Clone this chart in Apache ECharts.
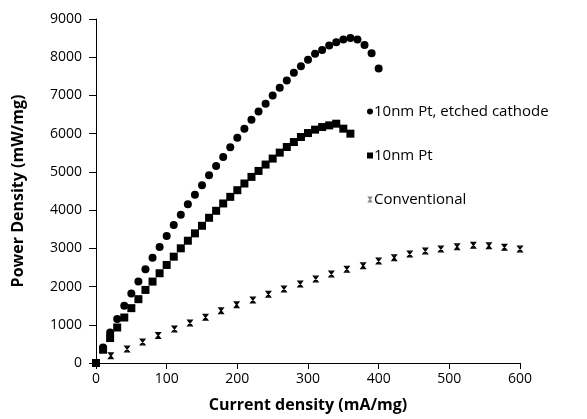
<!DOCTYPE html>
<html>
<head>
<meta charset="utf-8">
<script src="https://cdn.jsdelivr.net/npm/echarts@6/dist/echarts.min.js"></script>
<style>html,body{margin:0;padding:0;background:#fff;}#c{width:587px;height:419px;}</style>
</head>
<body>
<div id="c"></div>
<script>
const seriesNames = ['10nm Pt, etched cathode', '10nm Pt', 'Conventional'];

const etchedX = [0,10,20,30,40,50,60,70,80,90,100,110,120,130,140,150,160,170,180,190,200,210,220,230,240,250,260,270,280,290,300,310,320,330,340,350,360,370,380,390,400];
const etchedY = [0,407,798,1148,1495,1816,2130,2452,2755,3034,3321,3608,3877,4156,4400,4652,4913,5156,5391,5644,5896,6131,6366,6583,6783,7000,7200,7391,7592,7765,7931,8088,8192,8304,8391,8461,8505,8461,8322,8105,7704];

const ptX = [0,10,20,30,40,50,60,70,80,90,100,110,120,130,140,150,160,170,180,190,200,210,220,230,240,250,260,270,280,290,300,310,320,330,340,350,360];
const ptY = [0,347,652,929,1190,1435,1670,1912,2130,2348,2565,2782,3000,3199,3391,3590,3799,3982,4174,4347,4521,4696,4869,5025,5192,5348,5504,5651,5781,5912,6016,6105,6173,6217,6261,6131,6000];

const convX = [0,21,44,66,88,111,133,155,177,199,222,244,266,289,311,333,355,378,400,422,444,466,488,511,534,556,578,600];
const convY = [0,190,365,548,720,887,1044,1200,1364,1521,1651,1800,1938,2069,2199,2330,2452,2546,2669,2755,2852,2930,2982,3042,3078,3069,3026,2982];

const xTicks = {min: 0, max: 600, interval: 100};
const yTicks = {min: 0, max: 9000, interval: 1000};

const starPath = 'path://M2,0L8,0L8,1.5L2,1.5Z M2,8.5L8,8.5L8,10L2,10Z M0.5,0L2.8,0L9.5,10L7.2,10Z M7.2,0L9.5,0L2.8,10L0.5,10Z M4.3,0L5.7,0L5.7,10L4.3,10Z';

function pairs(xs, ys) { return xs.map((x, i) => [x, ys[i]]); }

const chart = echarts.init(document.getElementById('c'), null, {renderer: 'canvas'});
const font = '"Open Sans", "Liberation Sans", sans-serif';
chart.setOption({
  animation: false,
  backgroundColor: '#fff',
  textStyle: {fontFamily: font},
  grid: {left: 96, right: 67, top: 19, bottom: 56, containLabel: false},
  legend: {
    orient: 'vertical',
    left: 362,
    top: 99,
    itemGap: 29,
    itemWidth: 6,
    itemHeight: 6,
    textStyle: {fontFamily: font, fontSize: 15, color: '#000', padding: [0,0,0,-4]},
    data: [
      {name: seriesNames[0], icon: 'circle', itemStyle: {color: '#000', opacity: 1}},
      {name: seriesNames[1], icon: 'rect', itemStyle: {color: '#000', opacity: 1}},
      {name: seriesNames[2], icon: starPath, itemStyle: {color: '#888', opacity: 1}}
    ]
  },
  xAxis: {
    type: 'value',
    min: xTicks.min, max: xTicks.max, interval: xTicks.interval,
    name: 'Current density (mA/mg)',
    nameLocation: 'middle',
    nameGap: 34,
    nameTextStyle: {fontFamily: font, fontSize: 16, fontWeight: 'bold', color: '#000'},
    axisLine: {show: true, onZero: false, lineStyle: {color: '#000', width: 1}},
    axisTick: {show: true, inside: false, length: 6, lineStyle: {color: '#000'}},
    axisLabel: {fontFamily: font, fontSize: 14, color: '#000', margin: 9, formatter: v => String(v)},
    splitLine: {show: false}
  },
  yAxis: {
    type: 'value',
    min: yTicks.min, max: yTicks.max, interval: yTicks.interval,
    name: 'Power Density (mW/mg)',
    nameLocation: 'middle',
    nameGap: 70,
    nameTextStyle: {fontFamily: font, fontSize: 16, fontWeight: 'bold', color: '#000'},
    axisLine: {show: true, onZero: false, lineStyle: {color: '#000', width: 1}},
    axisTick: {show: true, inside: false, length: 7, lineStyle: {color: '#000'}},
    axisLabel: {fontFamily: font, fontSize: 14, color: '#000', margin: 14, formatter: v => String(v)},
    splitLine: {show: false}
  },
  series: [
    {name: seriesNames[2], type: 'scatter', data: pairs(convX, convY), symbol: starPath, symbolSize: [7, 7], itemStyle: {color: '#000', opacity: 1}},
    {name: seriesNames[1], type: 'scatter', data: pairs(ptX, ptY), symbol: 'rect', symbolSize: 8, itemStyle: {color: '#000', opacity: 1}},
    {name: seriesNames[0], type: 'scatter', data: pairs(etchedX, etchedY), symbol: 'circle', symbolSize: 8, itemStyle: {color: '#000', opacity: 1}}
  ]
});
</script>
</body>
</html>
